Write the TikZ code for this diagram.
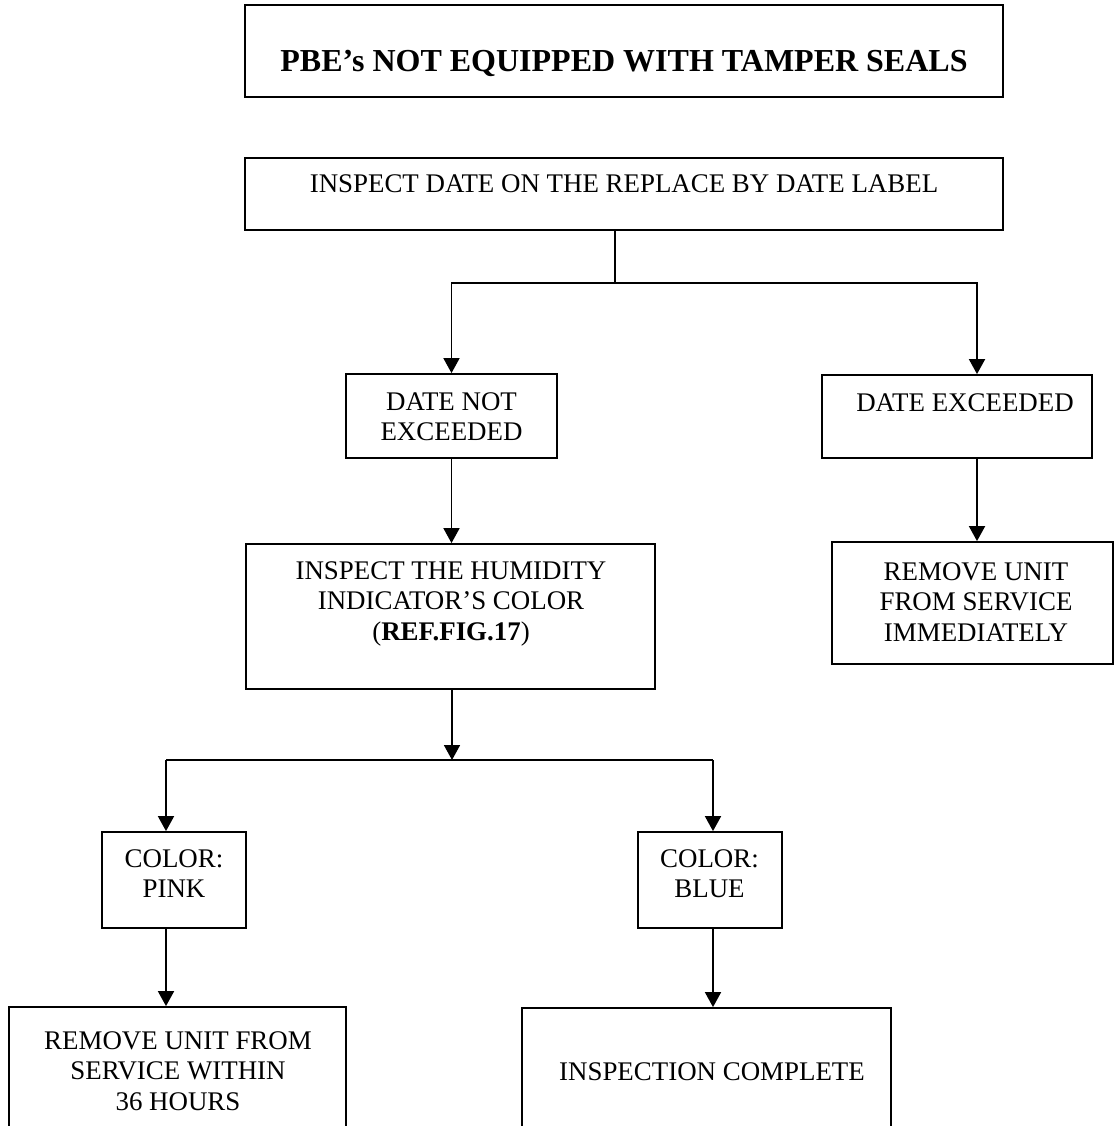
\documentclass[tikz,border=0pt]{standalone}
\usepackage{fontspec}
\setmainfont{Liberation Serif}
\usetikzlibrary{arrows.meta}
\tikzset{
  box/.style={draw, line width=1.8pt, rectangle, inner sep=0pt},
  txt/.style={inner sep=0pt, align=center, anchor=north, font=\fontsize{26.9pt}{30.5pt}\selectfont},
  conn/.style={line width=1.8pt},
  arr/.style={line width=1.8pt, -{Triangle[width=16pt,length=15pt]}}
}
\begin{document}
\begin{tikzpicture}[x=1pt,y=-1pt]
\useasboundingbox (0,0) rectangle (1114,1126);
\clip (0,0) rectangle (1114,1126);
% boxes: center (x,y), width, height
\node[box, minimum width=758pt, minimum height=92pt] (title) at (624,51) {};
\node[box, minimum width=758pt, minimum height=72pt] (inspect) at (624,194) {};
\node[box, minimum width=211pt, minimum height=84pt] (notexc) at (451.5,416) {};
\node[box, minimum width=270pt, minimum height=83pt] (exc) at (957,416.5) {};
\node[box, minimum width=409pt, minimum height=145pt] (humid) at (450.5,616.5) {};
\node[box, minimum width=281pt, minimum height=122pt] (remimm) at (972.5,603) {};
\node[box, minimum width=144pt, minimum height=96pt] (pink) at (174,880) {};
\node[box, minimum width=144pt, minimum height=96pt] (blue) at (710,880) {};
\node[box, minimum width=337pt, minimum height=160pt] (rem36) at (177.5,1087) {};
\node[box, minimum width=369pt, minimum height=160pt] (complete) at (706.5,1088) {};
% texts
\node[inner sep=0pt, anchor=base, font=\fontsize{32pt}{38pt}\selectfont\bfseries] (title-t) at (624,72) {PBE’s NOT EQUIPPED WITH TAMPER SEALS};
\node[txt] (inspect-t) at (624,174) {INSPECT DATE ON THE REPLACE BY DATE LABEL};
\node[txt] (notexc-t) at (451.5,392) {DATE NOT\\EXCEEDED};
\node[txt] (exc-t) at (965,393) {DATE EXCEEDED};
\node[txt] (humid-t) at (451,561) {INSPECT THE HUMIDITY\\INDICATOR’S COLOR\\(\textbf{REF.FIG.17})};
\node[txt] (remimm-t) at (976,562) {REMOVE UNIT\\FROM SERVICE\\IMMEDIATELY};
\node[txt] (pink-t) at (174,849) {COLOR:\\PINK};
\node[txt] (blue-t) at (709.5,849) {COLOR:\\BLUE};
\node[txt] (rem36-t) at (178,1031) {REMOVE UNIT FROM\\SERVICE WITHIN\\36 HOURS};
\node[txt] (complete-t) at (712,1062) {INSPECTION COMPLETE};
% connector points
\coordinate (j1) at (615,283);
\coordinate (ax) at (977,283);
\coordinate (j2) at (452,760);
\coordinate (pa) at (166,760);
\coordinate (ba) at (713,760);
% connectors
\draw[conn] (inspect.south -| j1) -- (j1);
\draw[arr] (j1) -| (notexc.north);
\draw[arr] (j1) -- (ax) -- (exc.north -| ax);
\draw[arr] (notexc.south) -- (notexc.south |- humid.north);
\draw[arr] (exc.south -| ax) -- (remimm.north -| ax);
\draw[arr] (humid.south -| j2) -- (j2);
\draw[conn] (pa) -- (ba);
\draw[arr] (pa) -- (pink.north -| pa);
\draw[arr] (ba) -- (blue.north -| ba);
\draw[arr] (pink.south -| pa) -- (rem36.north -| pa);
\draw[arr] (blue.south -| ba) -- (complete.north -| ba);
\end{tikzpicture}
\end{document}
